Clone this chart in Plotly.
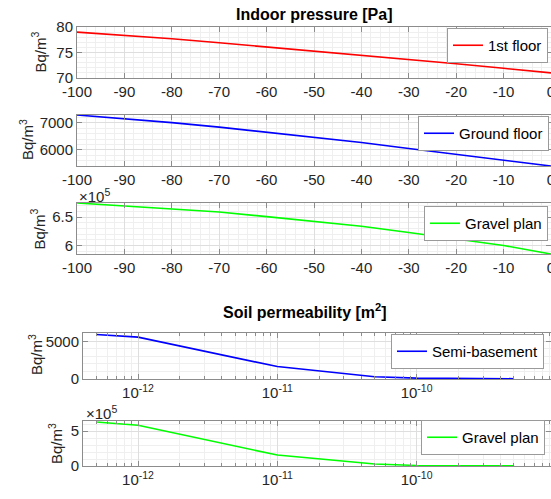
import plotly.graph_objects as go

# ---------------- data ----------------
pressure = [-100, -90, -80, -70, -60, -50, -40, -30, -20, -10, 0]
first_floor = [79.0, 78.4, 77.7, 76.9, 76.1, 75.3, 74.5, 73.7, 72.8, 71.9, 71.0]
ground_floor = [7280, 7150, 7000, 6835, 6645, 6480, 6270, 6050, 5840, 5630, 5410]
gravel_pressure = [675000, 670000, 665000, 659000, 651000, 642000, 634000, 623000, 612000, 600000, 585000]

permeability = [5e-13, 1e-12, 1e-11, 5e-11, 1e-10, 5e-10]
semi_basement = [5900, 5550, 1650, 300, 120, 40]
gravel_soil = [633000, 586000, 157000, 29000, 8000, 2000]

pressure_ticks = [-100, -90, -80, -70, -60, -50, -40, -30, -20, -10, 0]
perm_ticks = [1e-12, 1e-11, 1e-10, 1e-9]
perm_ticktext = ["10<sup>-12</sup>", "10<sup>-11</sup>", "10<sup>-10</sup>", "10<sup>-9</sup>"]

W, H = 551, 499
FONT = "Liberation Sans, Arial, sans-serif"
TXT = "#262626"
AX = "#8c8c8c"
GRID = "#dedede"
MGRID = "#efefef"


def px(x):
    return x / W


def py(y):
    return 1 - y / H


fig = go.Figure()

series = [
    (pressure, first_floor, "1st floor", "#ff0000", 1),
    (pressure, ground_floor, "Ground floor", "#0000ff", 2),
    (pressure, gravel_pressure, "Gravel plan", "#00ff00", 3),
    (permeability, semi_basement, "Semi-basement", "#0000ff", 4),
    (permeability, gravel_soil, "Gravel plan", "#00ff00", 5),
]
for xs, ys, name, col, i in series:
    fig.add_trace(go.Scatter(
        x=xs, y=ys, mode="lines", name=name,
        line=dict(color=col, width=1.6),
        xaxis="x" if i == 1 else f"x{i}",
        yaxis="y" if i == 1 else f"y{i}",
        legend="legend" if i == 1 else f"legend{i}",
        showlegend=True,
    ))

# plot-area boxes in pixels: (left, top, bottom)
boxes = {1: (77, 27, 78), 2: (77, 115, 166), 3: (77, 203, 254), 4: (83, 333, 379), 5: (83, 421, 466)}

common_axis = dict(
    showline=True, linecolor=AX, linewidth=1, mirror="ticks",
    ticks="inside", ticklen=5, tickcolor=AX,
    showgrid=True, gridcolor=GRID, gridwidth=1,
    zeroline=False, automargin=False,
    tickfont=dict(family=FONT, size=15, color=TXT),
)

layout = {}
for i in range(1, 6):
    left, top, bot = boxes[i]
    xk = "xaxis" if i == 1 else f"xaxis{i}"
    ya = "y" if i == 1 else f"y{i}"
    if i <= 3:
        xax = dict(common_axis, domain=[px(left), 1.0], anchor=ya, range=[-100, 0],
                   tickmode="array", tickvals=pressure_ticks,
                   ticktext=[str(v) for v in pressure_ticks], ticklabeloverflow="allow",
                   minor=dict(dtick=2, showgrid=True, gridcolor=MGRID, ticks=""))
    else:
        minor_vals = [k * 10.0 ** e for e in range(-13, -9) for k in range(2, 10)]
        xax = dict(common_axis, domain=[px(left), 1.0], anchor=ya, type="log",
                   range=[-12.395, -9.035],
                   tickmode="array", tickvals=perm_ticks, ticktext=perm_ticktext,
                   minor=dict(tickmode="array", tickvals=minor_vals, showgrid=True,
                              gridcolor=MGRID, ticks="inside", ticklen=3, tickcolor=AX))
    layout[xk] = xax

# y axes
ydefs = {
    1: dict(range=[70, 80], tickvals=[70, 75, 80], ticktext=["70", "75", "80"], mdt=1),
    2: dict(range=[min(ground_floor), max(ground_floor)], tickvals=[6000, 7000],
            ticktext=["6000", "7000"], mdt=200),
    3: dict(range=[min(gravel_pressure), max(gravel_pressure)], tickvals=[600000, 650000],
            ticktext=["6", "6.5"], mdt=10000),
    4: dict(range=[0, 6100], tickvals=[0, 5000], ticktext=["0", "5000"], mdt=1000),
    5: dict(range=[0, 647000], tickvals=[0, 500000], ticktext=["0", "5"], mdt=100000),
}
for i in range(1, 6):
    left, top, bot = boxes[i]
    yk = "yaxis" if i == 1 else f"yaxis{i}"
    xa = "x" if i == 1 else f"x{i}"
    d = ydefs[i]
    layout[yk] = dict(common_axis, domain=[py(bot), py(top)], anchor=xa,
                      range=d["range"], tickmode="array", tickvals=d["tickvals"],
                      ticktext=d["ticktext"],
                      minor=dict(dtick=d["mdt"], showgrid=True, gridcolor=MGRID, ticks=""))

# legends
leg_pos = {1: (548, 28), 2: (549, 116), 3: (548, 206), 4: (544, 334), 5: (545, 420)}
for i in range(1, 6):
    lk = "legend" if i == 1 else f"legend{i}"
    x, y = leg_pos[i]
    layout[lk] = dict(x=px(x), y=py(y), xanchor="right", yanchor="top",
                      bgcolor="white", bordercolor="#9a9a9a", borderwidth=1,
                      font=dict(family=FONT, size=15, color="#000000"),
                      tracegroupgap=0, itemwidth=30)


def ann(text, x, y, size=15, color=TXT, angle=0):
    return dict(text=text, x=px(x), y=py(y), xref="paper", yref="paper",
                xanchor="center", yanchor="middle", showarrow=False, textangle=angle,
                font=dict(family=FONT, size=size, color=color))


annotations = [
    ann("<b>Indoor pressure [Pa]</b>", 314, 14, size=16, color="#000000"),
    ann("<b>Soil permeability [m<sup>2</sup>]</b>", 305, 311, size=16, color="#000000"),
    ann("×10<sup>5</sup>", 94, 195),
    ann("×10<sup>5</sup>", 101, 412),
]
ytitle_pos = {1: (38.5, 52), 2: (26, 140), 3: (37.5, 229), 4: (35, 355), 5: (55, 443)}
for i in range(1, 6):
    x, y = ytitle_pos[i]
    annotations.append(ann("Bq/m<sup>3</sup>", x, y, angle=-90))

fig.update_layout(
    width=W, height=H,
    margin=dict(l=0, r=0, t=0, b=0, pad=0, autoexpand=False),
    paper_bgcolor="white", plot_bgcolor="white",
    annotations=annotations,
    font=dict(family=FONT, color=TXT),
    **layout,
)

fig.write_html("out.html")
